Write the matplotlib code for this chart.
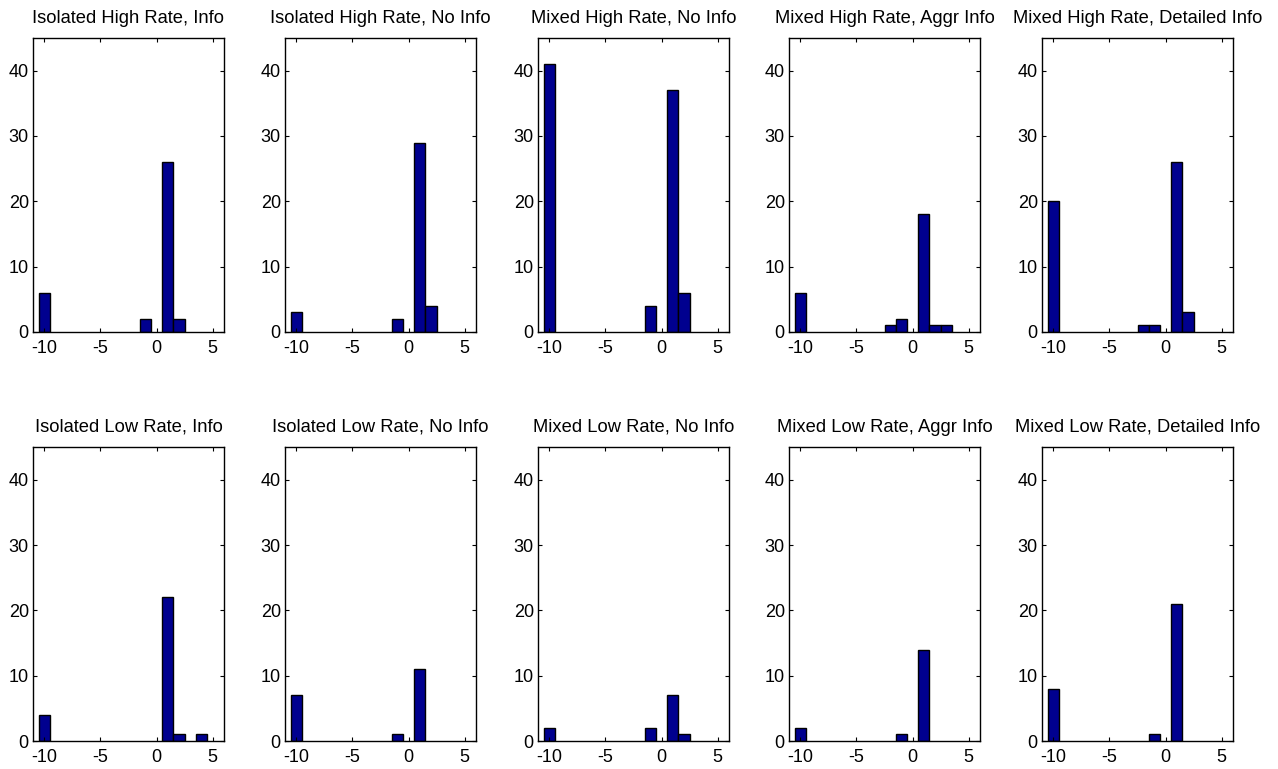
import numpy as np
import matplotlib
matplotlib.use("Agg")
import matplotlib.pyplot as plt

plt.rcParams['font.family'] = ['Liberation Sans', 'DejaVu Sans']
plt.rcParams['axes.unicode_minus'] = False

# bin centres used by every histogram
centers = [-10, -2, -1, 1, 2, 3, 4]

titles_top = ['Isolated High Rate, Info', 'Isolated High Rate, No Info',
              'Mixed High Rate, No Info', 'Mixed High Rate, Aggr Info',
              'Mixed High Rate, Detailed Info']
titles_bottom = ['Isolated Low Rate, Info', 'Isolated Low Rate, No Info',
                 'Mixed Low Rate, No Info', 'Mixed Low Rate, Aggr Info',
                 'Mixed Low Rate, Detailed Info']

# counts per bin centre (same order as centers)
counts_top = [
    [6, 0, 2, 26, 2, 0, 0],
    [3, 0, 2, 29, 4, 0, 0],
    [41, 0, 4, 37, 6, 0, 0],
    [6, 1, 2, 18, 1, 1, 0],
    [20, 1, 1, 26, 3, 0, 0],
]
counts_bottom = [
    [4, 0, 0, 22, 1, 0, 1],
    [7, 0, 1, 11, 0, 0, 0],
    [2, 0, 2, 7, 1, 0, 0],
    [2, 0, 1, 14, 0, 0, 0],
    [8, 0, 1, 21, 0, 0, 0],
]

bar_color = '#00008F'

fig = plt.figure(figsize=(12.78, 7.69), dpi=100)

lefts = [33, 285, 538, 789, 1042]
W, H = 1278.0, 769.0
rows = [(38, 332, titles_top, counts_top), (447, 741, titles_bottom, counts_bottom)]

for top, bot, titles, counts in rows:
    for i in range(5):
        ax = fig.add_axes([lefts[i] / W, 1 - bot / H, 191 / W, (bot - top) / H])
        c = np.array(counts[i])
        x = np.array(centers)
        keep = c > 0
        ax.bar(x[keep], c[keep], width=1.0, color=bar_color,
               edgecolor='black', linewidth=1.0)
        ax.set_xlim(-11, 6)
        ax.set_ylim(0, 45)
        ax.set_xticks([-10, -5, 0, 5])
        ax.set_yticks([0, 10, 20, 30, 40])
        ax.tick_params(direction='in', top=True, right=True, length=3,
                       labelsize=13, pad=3)
        ax.tick_params(axis='x', pad=6)
        for s in ax.spines.values():
            s.set_linewidth(1.0)
        ax.set_title(titles[i], fontsize=13.2, pad=11)

fig.savefig('out.png', dpi=100)
